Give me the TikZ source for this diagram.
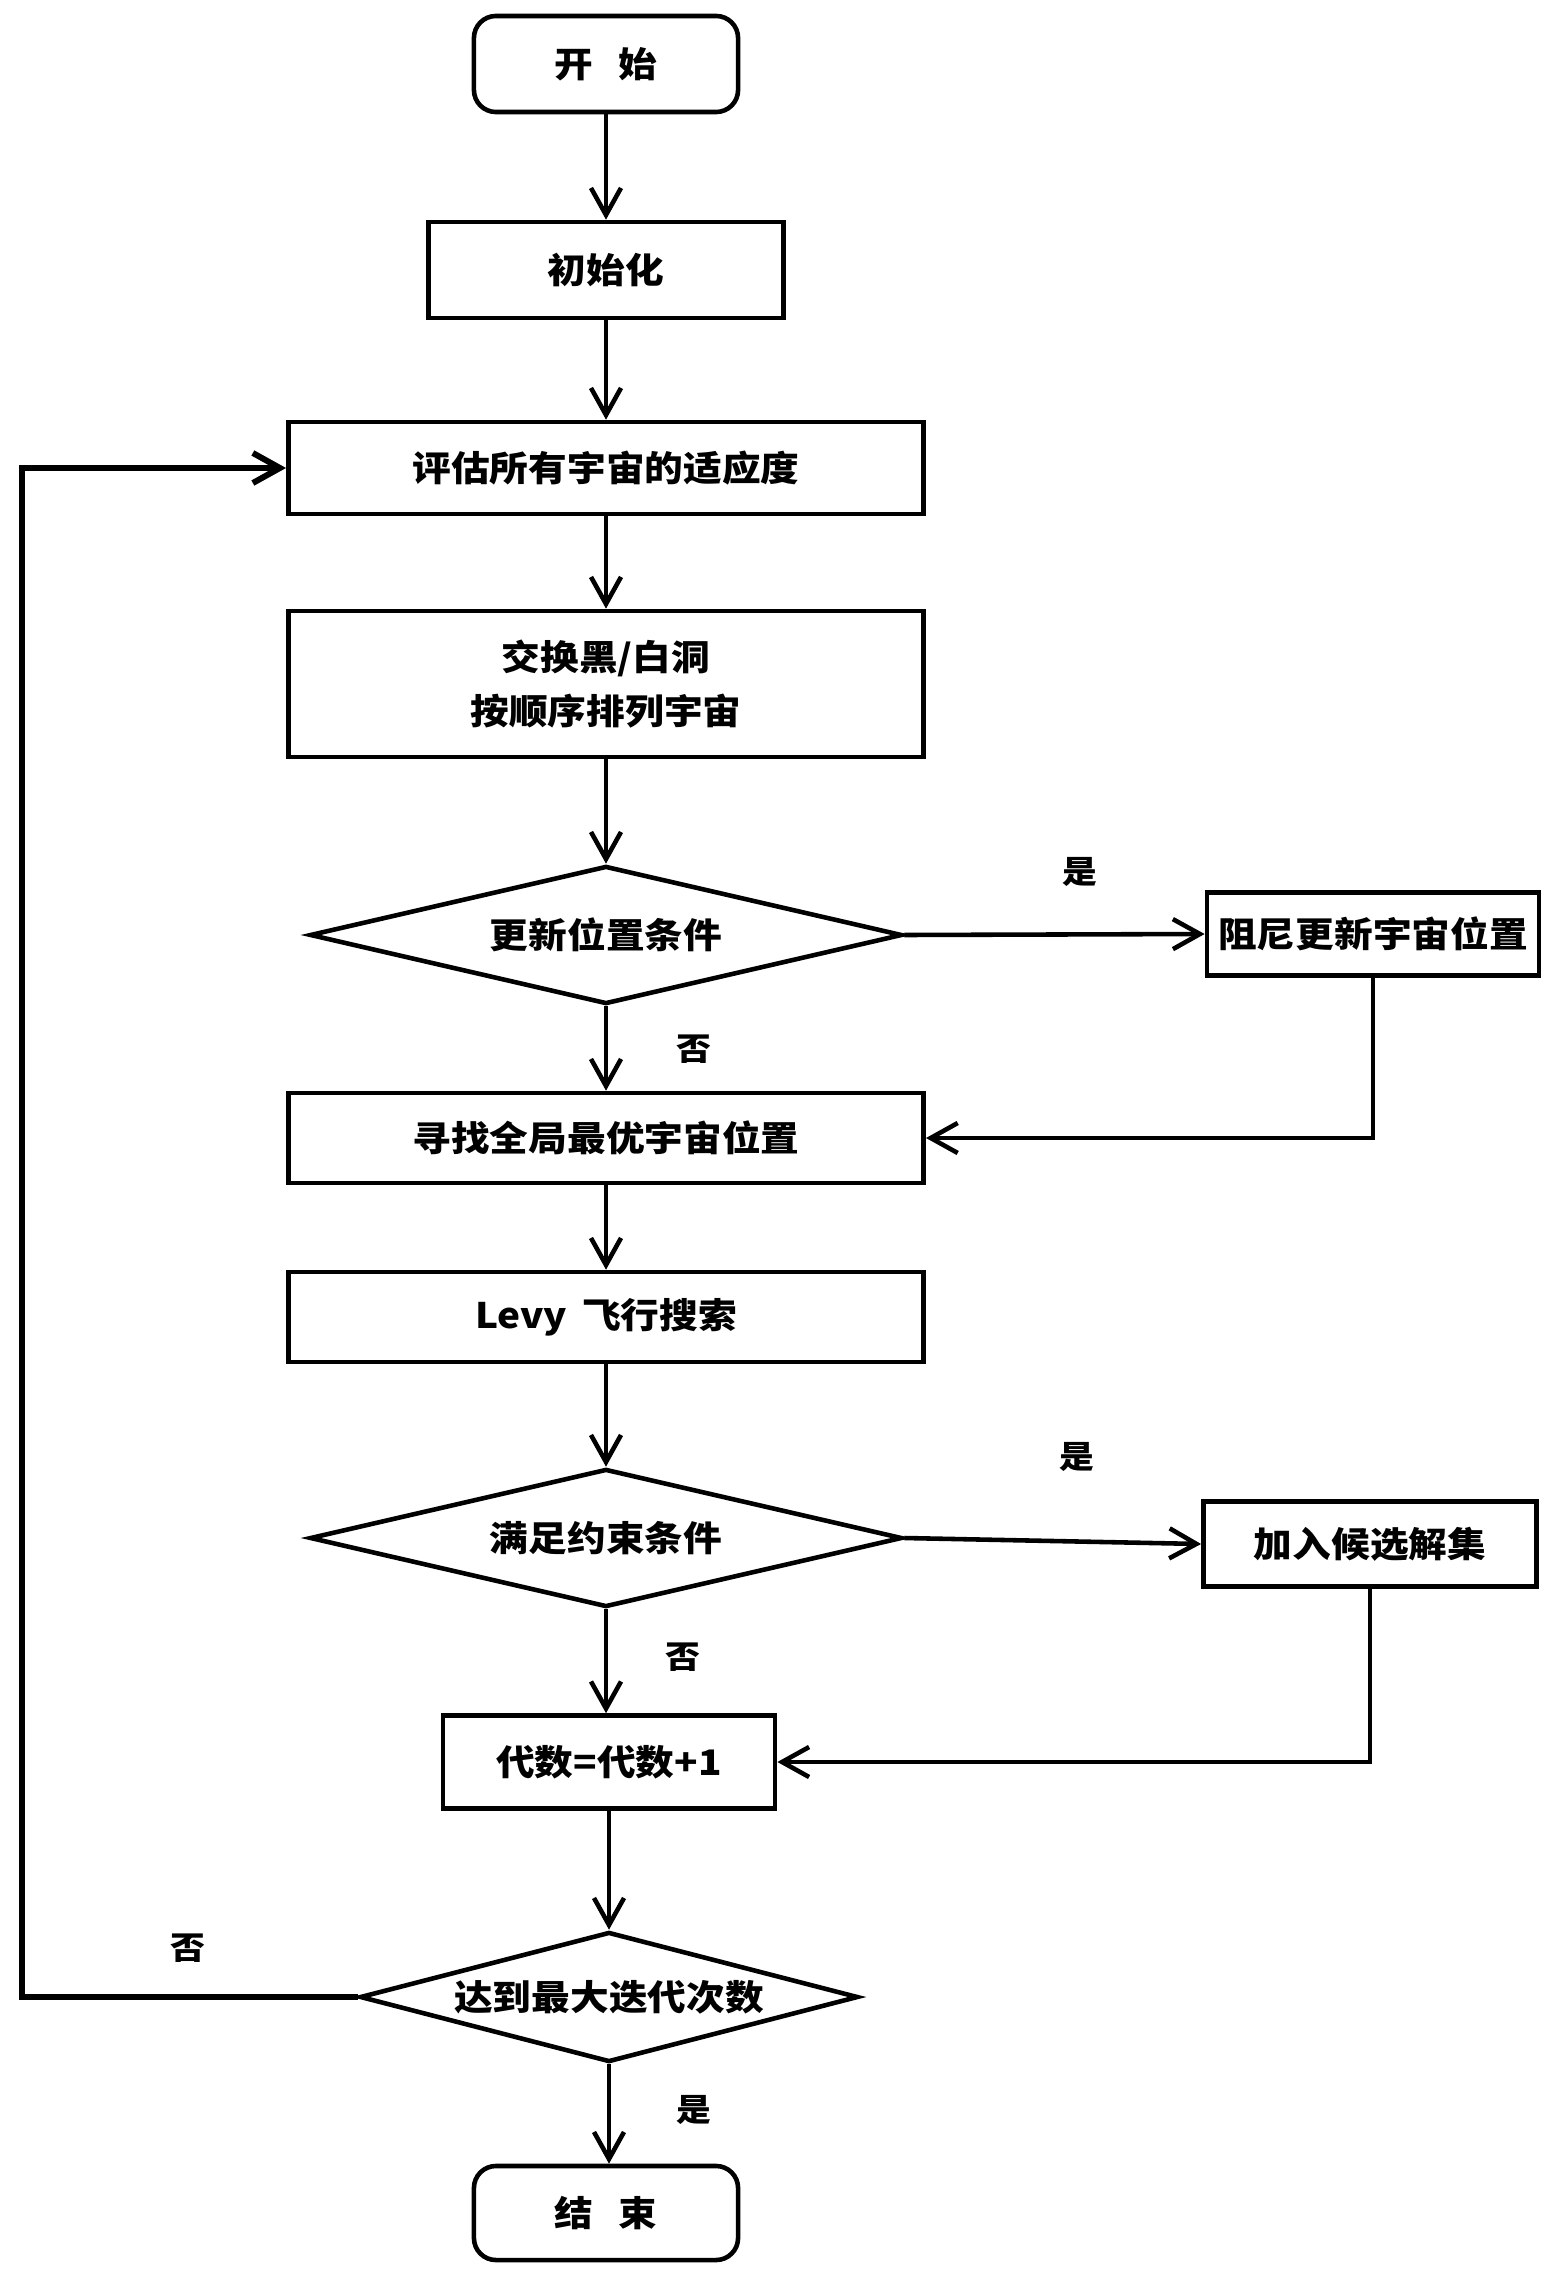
\documentclass[tikz,border=0pt]{standalone}
\usepackage{fontspec}
\newfontfamily\cjk[FakeStretch=1.1]{Noto Sans CJK SC}
\usetikzlibrary{shapes.geometric,arrows.meta}
\begin{document}
\begin{tikzpicture}[x=0.01cm,y=-0.01cm,
    block/.style ={rectangle, draw, line width=1.3pt, inner sep=0pt, align=center,
      font=\cjk\bfseries\fontsize{10}{15.6}\selectfont},
    terminal/.style ={block, rounded corners=0.22cm, minimum width=2.64cm},
    decision/.style ={diamond, draw, line width=1.3pt, inner sep=0pt, aspect=4.2,
      font=\cjk\bfseries\fontsize{10}{12}\selectfont},
    answer/.style ={font=\cjk\bfseries\fontsize{9}{9}\selectfont},
    flow/.style ={line width=1.3pt, -{Straight Barb[length=2.7mm,width=3mm]}}]
   \useasboundingbox (0,0) rectangle (1553,2276);
   \node[terminal, minimum height=0.96cm] (start)  at (606,64)  {开\hspace{0.26cm}始};
   \node[block, minimum width=3.55cm, minimum height=0.96cm] (init)  at (606,270)  {初始化};
   \node[block, minimum width=6.35cm, minimum height=0.92cm] (eval)  at (606,468)  {评估所有宇宙的适应度};
   \node[block, minimum width=6.35cm, minimum height=1.46cm] (swap)  at (606,684)
      {交换黑/白洞\\按顺序排列宇宙};
   \node[decision, minimum width=5.92cm, minimum height=1.38cm] (cond1)  at (606,935)  {更新位置条件};
   \node[block, minimum width=3.32cm, minimum height=0.83cm] (damp)  at (1373,934)  {阻尼更新宇宙位置};
   \node[block, minimum width=6.35cm, minimum height=0.90cm] (find)  at (606,1138)  {寻找全局最优宇宙位置};
   \node[block, minimum width=6.35cm, minimum height=0.90cm] (levy)  at (606,1317)  {Levy\hspace{0.15cm}飞行搜索};
   \node[decision, minimum width=5.92cm, minimum height=1.38cm] (cond2)  at (606,1538)  {满足约束条件};
   \node[block, minimum width=3.33cm, minimum height=0.85cm] (cand)  at (1370,1544)  {加入候选解集};
   \node[block, minimum width=3.32cm, minimum height=0.93cm] (gen)  at (609,1762)  {代数=代数+1};
   \node[decision, minimum width=4.98cm, minimum height=1.30cm] (cond3)  at (609,1997)  {达到最大迭代次数};
   \node[terminal, minimum height=0.94cm] (stop)  at (606,2213)  {结\hspace{0.26cm}束};
   \node[answer] (yes1)  at (1080,872)  {是};
   \node[answer] (no1)  at (694,1049)  {否};
   \node[answer] (yes2)  at (1077,1457)  {是};
   \node[answer] (no2)  at (683,1657)  {否};
   \node[answer] (no3)  at (188,1948)  {否};
   \node[answer] (yes3)  at (694,2110)  {是};
   \coordinate (loopcorner)  at (22,1997);
   \draw[flow] (start) to (init);
   \draw[flow] (init) to (eval);
   \draw[flow] (eval) to (swap);
   \draw[flow] (swap) to (cond1);
   \draw[flow] (cond1) to (find);
   \draw[flow] (cond1.east) to (damp.west);
   \draw[flow] (damp.south) |- (find.east);
   \draw[flow] (find) to (levy);
   \draw[flow] (levy) to (cond2);
   \draw[flow] (cond2.south) to (cond2.south |- gen.north);
   \draw[flow] (cond2.east) to (cand.west);
   \draw[flow] (cand.south) |- (gen.east);
   \draw[flow] (gen) to (cond3);
   \draw[flow] (cond3.south) to (cond3.south |- stop.north);
   \draw[flow, line width=1.7pt] (cond3.west) -- (loopcorner) |- (eval.west);
 \end{tikzpicture}
\end{document}
